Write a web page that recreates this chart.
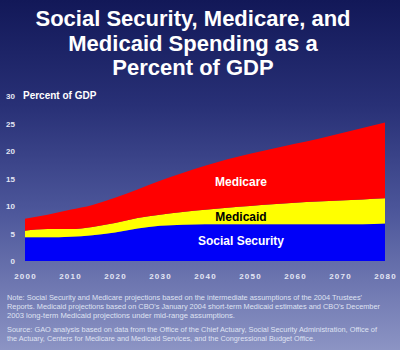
<!DOCTYPE html>
<html>
<head>
<meta charset="utf-8">
<script src="https://cdn.jsdelivr.net/npm/d3@7"></script>
<style>
  body { margin: 0; background: #1b2163; }
  svg { display: block; font-family: "Liberation Sans", Arial, sans-serif; }
</style>
</head>
<body>
<div id="wrapper"></div>
<script>
const years = [2000, 2005, 2010, 2015, 2020, 2025, 2030, 2035, 2040,
  2045, 2050, 2055, 2060, 2065, 2070, 2075, 2080];
const socialSecurity = [4.3, 4.3, 4.4, 4.7, 5.2, 5.9, 6.4, 6.6, 6.7,
  6.7, 6.7, 6.7, 6.7, 6.7, 6.7, 6.7, 6.8];
const medicaid = [1.2, 1.5, 1.4, 1.5, 1.7, 1.9, 2.0, 2.3, 2.6,
  3.0, 3.3, 3.6, 3.9, 4.1, 4.3, 4.5, 4.6];
const medicare = [2.2, 2.6, 3.5, 4.0, 4.6, 5.2, 6.2, 7.1, 8.0,
  8.8, 9.5, 10.1, 10.7, 11.4, 12.2, 13.0, 13.8];
const yTicks = [0, 5, 10, 15, 20, 25, 30];
const xTicks = [2000, 2010, 2020, 2030, 2040, 2050, 2060, 2070, 2080];
const seriesKeys = ["socialSecurity", "medicaid", "medicare"];
const seriesLabels = ["Social Security", "Medicaid", "Medicare"];

const titleLines = [
  "Social Security, Medicare, and",
  "Medicaid Spending as a",
  "Percent of GDP",
];
const noteLines = [
  "Note:  Social Security and Medicare projections based on the intermediate assumptions of the 2004 Trustees'",
  "Reports.  Medicaid projections based on CBO's January 2004 short-term Medicaid estimates and CBO's December",
  "2003 long-term Medicaid projections under mid-range assumptions.",
];
const sourceLines = [
  "Source:  GAO analysis based on data from the Office of the Chief Actuary, Social Security Administration, Office of",
  "the Actuary, Centers for Medicare and Medicaid Services, and the Congressional Budget Office.",
];

function drawChart() {
  //* Step 1. Access data
  const dataset = years.map((year, i) => ({
    year,
    socialSecurity: socialSecurity[i],
    medicaid: medicaid[i],
    medicare: medicare[i],
  }));
  const stacked = d3.stack().keys(seriesKeys)(dataset);

  //* Step 2. Create chart dimensions
  const dimensions = {
    width: 400,
    height: 350,
    margin: { top: 96, right: 15, bottom: 89, left: 25 },
  };
  dimensions.boundedWidth =
    dimensions.width - dimensions.margin.left - dimensions.margin.right;
  dimensions.boundedHeight =
    dimensions.height - dimensions.margin.top - dimensions.margin.bottom;

  //* Step 3. Draw canvas
  const wrapper = d3
    .select("#wrapper")
    .append("svg")
    .attr("width", dimensions.width)
    .attr("height", dimensions.height);

  const defs = wrapper.append("defs");
  const bg = defs
    .append("linearGradient")
    .attr("id", "bg")
    .attr("x1", 0).attr("y1", 0)
    .attr("x2", 0).attr("y2", 1);
  bg.append("stop").attr("offset", "0%").attr("stop-color", "#121858");
  bg.append("stop").attr("offset", "30%").attr("stop-color", "#283076");
  bg.append("stop").attr("offset", "60%").attr("stop-color", "#4c569a");
  bg.append("stop").attr("offset", "100%").attr("stop-color", "#8c94c4");

  wrapper
    .append("rect")
    .attr("width", dimensions.width)
    .attr("height", dimensions.height)
    .attr("fill", "url(#bg)");

  const bounds = wrapper
    .append("g")
    .attr(
      "transform",
      `translate(${dimensions.margin.left}, ${dimensions.margin.top})`
    );

  //* Step 4. Create scales
  const xScale = d3
    .scaleLinear()
    .domain([2000, 2080])
    .range([0, dimensions.boundedWidth]);

  const yScale = d3
    .scaleLinear()
    .domain([0, 30])
    .range([dimensions.boundedHeight, 0]);

  const colorScale = d3
    .scaleOrdinal()
    .domain(seriesKeys)
    .range(["#0000f8", "#ffff00", "#ff0000"]);

  //* Step 5. Draw data
  const areaGenerator = d3
    .area()
    .x((d) => xScale(d.data.year))
    .y0((d) => yScale(d[0]))
    .y1((d) => yScale(d[1]))
    .curve(d3.curveMonotoneX);

  bounds
    .append("g")
    .selectAll("path")
    .data(stacked)
    .join("path")
    .attr("d", areaGenerator)
    .attr("fill", (d) => colorScale(d.key));

  // series labels inside the areas
  const labelYear = 2048;
  const labelSpecs = [
    { key: "medicare", value: 13.6, color: "#ffffff" },
    { key: "medicaid", value: 7.2, color: "#000000" },
    { key: "socialSecurity", value: 2.85, color: "#ffffff" },
  ];
  bounds
    .append("g")
    .selectAll("text")
    .data(labelSpecs)
    .join("text")
    .attr("x", xScale(labelYear))
    .attr("y", (d) => yScale(d.value))
    .attr("text-anchor", "middle")
    .attr("fill", (d) => d.color)
    .style("font-size", "12px")
    .style("font-weight", "bold")
    .text((d) => seriesLabels[seriesKeys.indexOf(d.key)]);

  //* Step 6. Draw peripherals
  const yAxisGenerator = d3
    .axisLeft(yScale)
    .tickValues(yTicks)
    .tickSize(0)
    .tickPadding(10);
  const yAxis = bounds.append("g").call(yAxisGenerator);
  yAxis.select(".domain").remove();
  yAxis
    .selectAll("text")
    .attr("fill", "#e4e6f4")
    .style("font-size", "8px")
    .style("font-weight", "bold")
    .style("font-family", "'Liberation Sans', Arial, sans-serif");

  const xAxisGenerator = d3
    .axisBottom(xScale)
    .tickValues(xTicks)
    .tickFormat(d3.format("d"))
    .tickSize(0)
    .tickPadding(12);
  const xAxis = bounds
    .append("g")
    .attr("transform", `translate(0, ${dimensions.boundedHeight})`)
    .call(xAxisGenerator);
  xAxis.select(".domain").remove();
  xAxis
    .selectAll("text")
    .attr("fill", "#e4e6f4")
    .style("font-size", "8px")
    .style("font-weight", "bold")
    .style("letter-spacing", "1.2px")
    .style("font-family", "'Liberation Sans', Arial, sans-serif");

  bounds
    .append("text")
    .attr("x", -2)
    .attr("y", 3)
    .attr("fill", "#ffffff")
    .style("font-size", "10px")
    .style("font-weight", "bold")
    .text("Percent of GDP");

  const title = wrapper
    .append("g")
    .selectAll("text")
    .data(titleLines)
    .join("text")
    .attr("x", 193)
    .attr("y", (d, i) => 26 + i * 24.5)
    .attr("text-anchor", "middle")
    .attr("fill", "#ffffff")
    .style("font-size", "22px")
    .style("font-weight", "bold")
    .text((d) => d);

  const noteWidths = [355, 373, 228];
  wrapper
    .append("g")
    .selectAll("text")
    .data(noteLines)
    .join("text")
    .attr("x", 7)
    .attr("y", (d, i) => 300 + i * 9)
    .attr("textLength", (d, i) => noteWidths[i])
    .attr("lengthAdjust", "spacingAndGlyphs")
    .attr("fill", "#dfe2f2")
    .style("font-size", "7.5px")
    .text((d) => d);

  const sourceWidths = [370, 308];
  wrapper
    .append("g")
    .selectAll("text")
    .data(sourceLines)
    .join("text")
    .attr("x", 7)
    .attr("y", (d, i) => 332 + i * 8.5)
    .attr("textLength", (d, i) => sourceWidths[i])
    .attr("lengthAdjust", "spacingAndGlyphs")
    .attr("fill", "#dfe2f2")
    .style("font-size", "7.5px")
    .text((d) => d);
}

drawChart();
</script>
</body>
</html>
